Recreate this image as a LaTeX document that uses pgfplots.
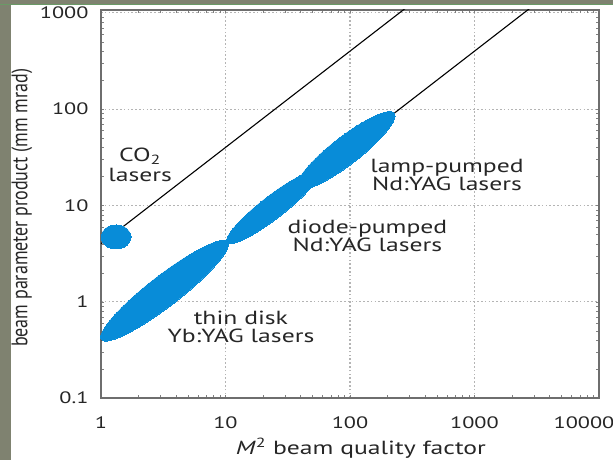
\documentclass[border=0pt]{standalone}
\usepackage{fontspec}
\setmainfont{PT Sans}[FakeStretch=1.35]
\newfontfamily\ylfont{PT Sans}[FakeStretch=0.8]
\usepackage{pgfplots}
\pgfplotsset{compat=1.18}
\definecolor{laser}{HTML}{088CD8}
\definecolor{framec}{HTML}{6E6E6E}
\definecolor{gridc}{HTML}{B4B4B4}
\definecolor{band}{HTML}{7F8270}
\definecolor{bandline}{HTML}{6A9A66}
\definecolor{txt}{HTML}{262626}
\begin{document}
\begin{tikzpicture}
\begin{axis}[
  scale only axis, width=498bp, height=388bp,
  xmode=log, ymode=log,
  xmin=1, xmax=10000, ymin=0.1, ymax=1070,
  xtick={1,10,100,1000,10000},
  xticklabels={1,10,100,1000,{\makebox[0pt]{10000\hspace*{30bp}}}},
  ytick={0.1,1,10,100,1000}, yticklabels={0.1,1,10,100,1000},
  minor xtick={}, minor ytick={},
  major tick length=0pt,
  grid=major,
  major grid style={gridc, line width=1.1bp, dash pattern=on 1.6bp off 2.2bp},
  axis line style={framec, line width=2bp},
  tick label style={font=\fontsize{16.5bp}{19bp}\selectfont, text=txt},
  xticklabel style={yshift=-15bp},
  yticklabel style={xshift=-9bp},
  xlabel={\textit{M}\textsuperscript{2} beam quality factor},
  xlabel style={font=\fontsize{19bp}{22bp}\selectfont, text=txt, at={(axis description cs:0.522,0)}, anchor=center, yshift=-50bp},
  ylabel={beam parameter product (mm mrad)},
  ylabel style={font={\ylfont\fontsize{22.5bp}{24bp}\selectfont}, text=txt, at={(axis description cs:-0.159,0.49)}, anchor=center},
]
% laser regions
\addplot[only marks, color=laser, mark=*, mark size=12bp, mark options={solid, line width=0pt, draw=laser, fill=laser, xscale=1.25}] coordinates {(1.32,4.7)};
\addplot[only marks, color=laser, mark=*, mark size=15.5bp, mark options={solid, line width=0pt, draw=laser, fill=laser, rotate=37.7, xscale=5.16}] coordinates {(3.24,1.30)};
\addplot[only marks, color=laser, mark=*, mark size=11.5bp, mark options={solid, line width=0pt, draw=laser, fill=laser, rotate=37.7, xscale=5.02}] coordinates {(23.9,9.56)};
\addplot[only marks, color=laser, mark=*, mark size=14bp, mark options={solid, line width=0pt, draw=laser, fill=laser, rotate=37.7, xscale=4.36}] coordinates {(92.9,37.2)};
% BPP lines
\addplot[black, line width=1.1bp] coordinates {(1,0.4) (10000,4000)};
\addplot[black, line width=1.1bp] coordinates {(1,4) (1000,4000)};
% labels
\node[align=center, text=txt, font=\fontsize{19bp}{19.5bp}\selectfont] at (axis cs:2.06,26.5) {CO\textsubscript{2}\\lasers};
\node[align=center, text=txt, font=\fontsize{19bp}{18bp}\selectfont] at (axis cs:13.3,0.545) {thin disk\\Yb:YAG lasers};
\node[align=center, text=txt, font=\fontsize{19bp}{18bp}\selectfont] at (axis cs:138,4.86) {diode-pumped\\Nd:YAG lasers};
\node[align=center, text=txt, font=\fontsize{19bp}{18bp}\selectfont] at (axis cs:601,20.7) {lamp-pumped\\Nd:YAG lasers};
\coordinate (SW) at (rel axis cs:0,0);
\end{axis}
\pgfresetboundingbox
\useasboundingbox (SW) ++(-101bp,-62bp) rectangle ++(613bp,460bp);
\fill[band] (SW) ++(-101bp,-62bp) rectangle ++(11bp,460bp);
\fill[band] (SW) ++(-101bp,398bp-5bp) rectangle ++(613bp,5bp);
\fill[bandline] (SW) ++(-101bp,398bp-5.5bp) rectangle ++(613bp,1.5bp);
\end{tikzpicture}
\end{document}
